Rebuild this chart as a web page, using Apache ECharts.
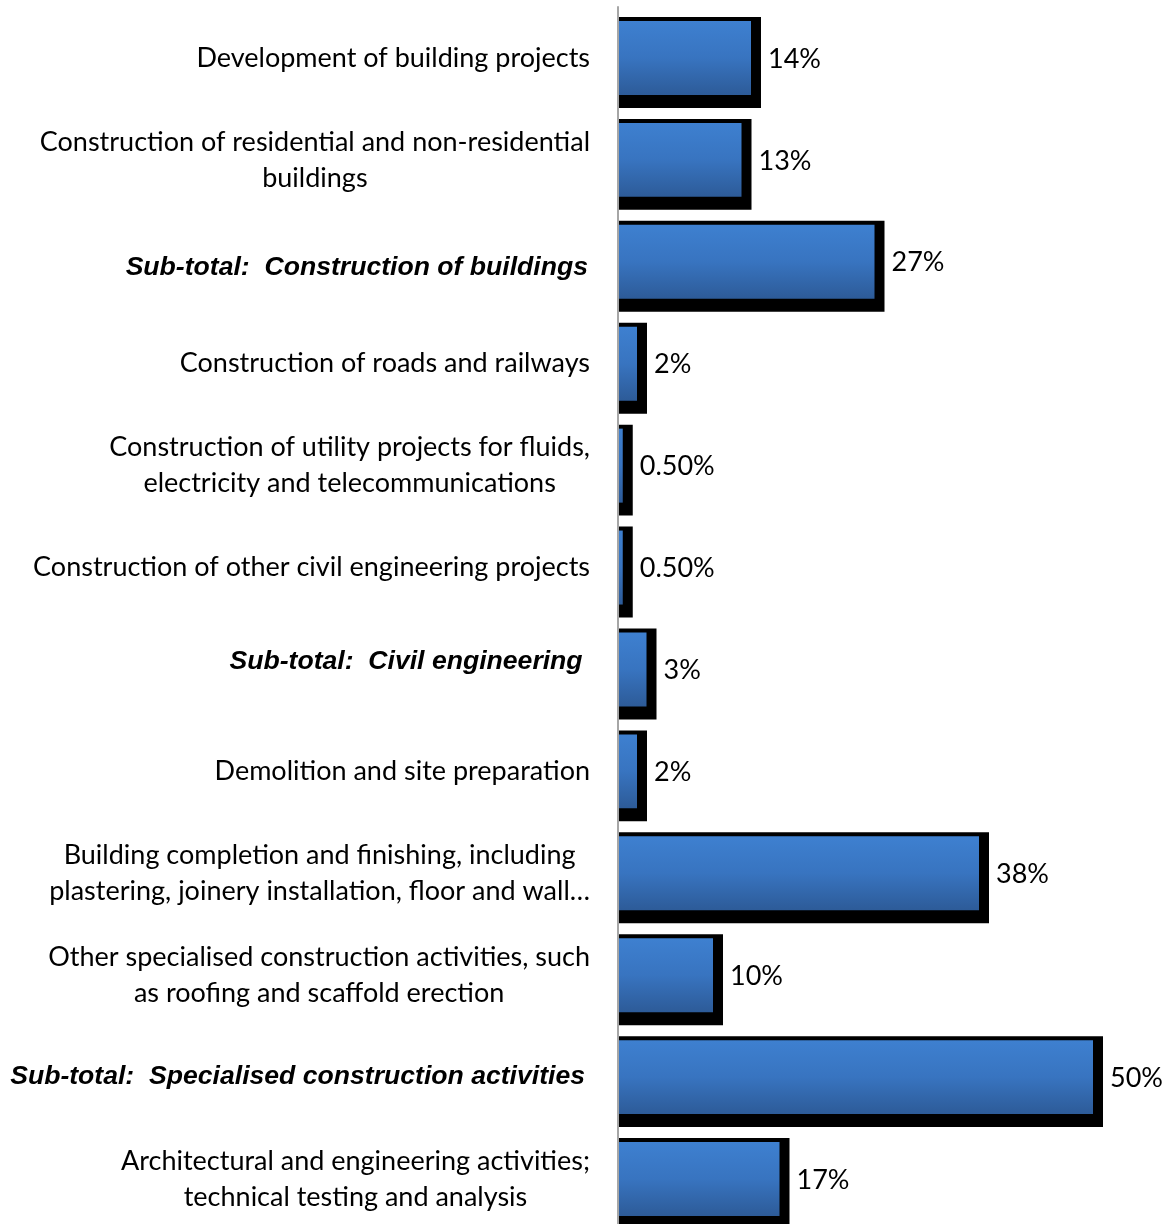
<!DOCTYPE html>
<html>
<head>
<meta charset="utf-8">
<style>
  html, body { margin: 0; padding: 0; background: #ffffff; overflow: hidden; }
  #chart { width: 1165px; height: 1232px; }
</style>
<script src="https://cdn.jsdelivr.net/npm/echarts@6/dist/echarts.min.js"></script>
</head>
<body>
<div id="chart"></div>
<script>
// Activity categories, top to bottom
const categories = [
  'Development of building projects',
  'Construction of residential and non-residential\nbuildings',
  'Sub-total:  Construction of buildings',
  'Construction of roads and railways',
  'Construction of utility projects for fluids,\nelectricity and telecommunications',
  'Construction of other civil engineering projects',
  'Sub-total:  Civil engineering ',
  'Demolition and site preparation',
  'Building completion and finishing, including\nplastering, joinery installation, floor and wall\u2026',
  'Other specialised construction activities, such\nas roofing and scaffold erection',
  'Sub-total:  Specialised construction activities',
  'Architectural and engineering activities;\ntechnical testing and analysis'
];

// Share of each activity, in percent
const shares = [14, 13, 27, 2, 0.5, 0.5, 3, 2, 38, 10, 50, 17];

const SUBTOTAL_PREFIX = 'Sub-total:';

function formatShare(v) {
  return Number.isInteger(v) ? v + '%' : v.toFixed(2) + '%';
}

const chart = echarts.init(document.getElementById('chart'), null, { renderer: 'canvas' });

const barFill = new echarts.graphic.LinearGradient(0, 0, 0, 1, [
  { offset: 0, color: '#3e80d0' },
  { offset: 0.5, color: '#3874c0' },
  { offset: 1, color: '#2d5b98' }
]);

// Bar with a hard black drop shadow and its value label
function renderBar(params, api) {
  const v = api.value(0);
  const idx = api.value(1);
  const start = api.coord([0, idx]);
  const end = api.coord([v, idx]);
  const band = api.size([0, 1])[1];
  const h = band * 0.726;
  const cy = start[1];
  const w = end[0] - start[0];
  return {
    type: 'group',
    children: [
      {
        type: 'rect',
        shape: { x: start[0], y: cy - h / 2 - 4, width: w + 10, height: h + 17 },
        style: { fill: '#000000' }
      },
      {
        type: 'rect',
        shape: { x: start[0], y: cy - h / 2, width: w, height: h },
        style: { fill: barFill }
      },
      {
        type: 'text',
        x: end[0] + 17,
        y: cy + 1,
        style: {
          text: formatShare(v),
          fill: '#000000',
          font: '27px Lato',
          align: 'left',
          verticalAlign: 'middle'
        }
      }
    ]
  };
}

const plainLabel = {
  align: 'center',
  fontFamily: 'Lato',
  fontSize: 27,
  lineHeight: 36,
  color: '#000000'
};
const subtotalLabel = {
  align: 'center',
  fontFamily: '"Liberation Sans", Arial, sans-serif',
  fontSize: 26.6,
  fontStyle: 'italic',
  fontWeight: 'bold',
  lineHeight: 36,
  color: '#000000'
};

// Sub-total headings sit a little off their row centre
const richStyles = {
  n: plainLabel,
  s0: Object.assign({}, subtotalLabel, { padding: [12, 2, 0, 0] }),
  s1: Object.assign({}, subtotalLabel, { padding: [0, 0, 16, 0] }),
  s2: Object.assign({}, subtotalLabel, { padding: [0, 5, 0, 0] })
};

chart.setOption({
  animation: false,
  backgroundColor: '#ffffff',
  grid: { left: 618, top: 7, width: 522.5, height: 1223, containLabel: false },
  xAxis: {
    type: 'value',
    min: 0,
    max: 55,
    show: false
  },
  yAxis: {
    type: 'category',
    data: categories,
    inverse: true,
    z: 5,
    axisLine: { show: true, lineStyle: { color: '#a6a6a6', width: 2 } },
    axisTick: { show: false },
    splitLine: { show: false },
    axisLabel: {
      margin: 28,
      align: 'right',
      interval: 0,
      formatter: function (value, index) {
        let key = 'n';
        if (value.indexOf(SUBTOTAL_PREFIX) === 0) {
          const nth = categories.slice(0, index).filter(function (c) {
            return c.indexOf(SUBTOTAL_PREFIX) === 0;
          }).length;
          key = 's' + nth;
        }
        return value.split('\n').map(function (line) {
          return '{' + key + '|' + line + '}';
        }).join('\n');
      },
      rich: richStyles
    }
  },
  series: [
    {
      type: 'custom',
      z: 2,
      renderItem: renderBar,
      encode: { x: 0, y: 1 },
      data: shares.map(function (v, i) { return [v, i]; })
    }
  ]
});
</script>
</body>
</html>
